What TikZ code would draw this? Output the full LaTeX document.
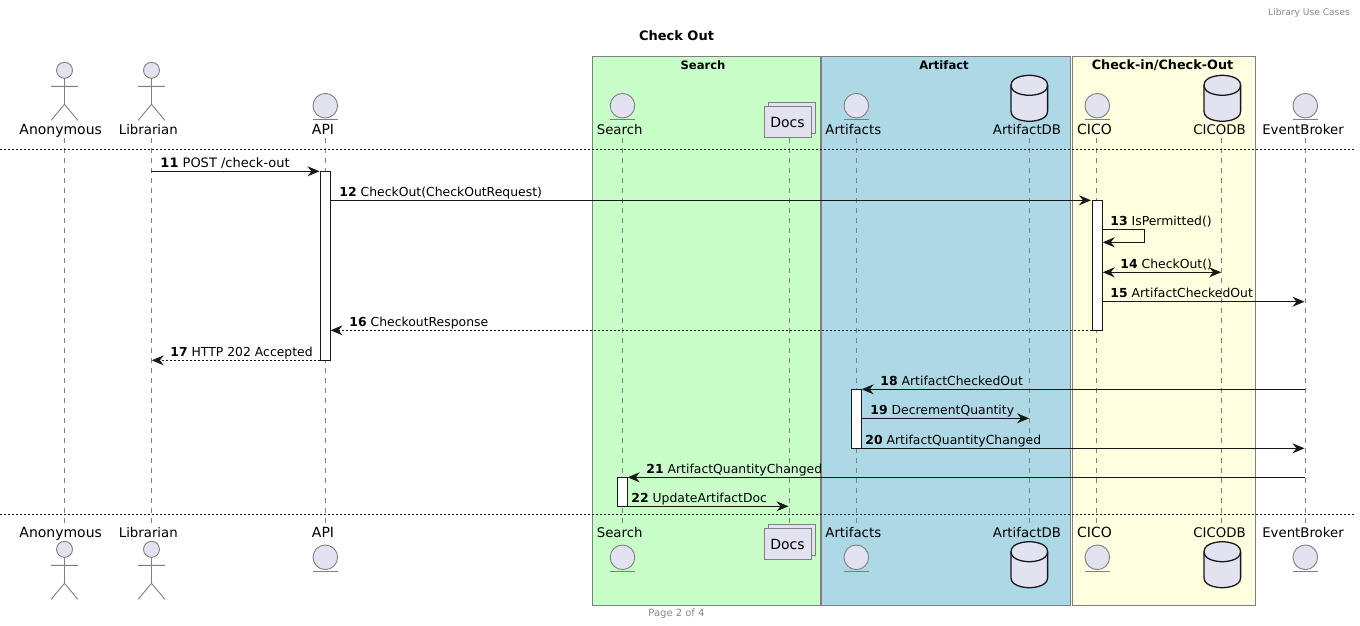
\documentclass[tikz,border=0pt]{standalone}
\usepackage{fontspec}
\setmainfont{DejaVu Sans}
\usetikzlibrary{arrows.meta}
\definecolor{partfill}{HTML}{E2E2F0}
\definecolor{partline}{HTML}{7F7F7F}
\definecolor{inkline}{HTML}{181818}
\definecolor{boxgreen}{HTML}{C8FFC8}
\definecolor{boxblue}{HTML}{ADD8E6}
\definecolor{boxyellow}{HTML}{FFFFE0}
\definecolor{pagegrey}{HTML}{888888}

\tikzset{
    grouptitle/.style={font=\fontsize{#1}{14}\selectfont\bfseries, inner sep=0pt, anchor=base},
    grouptitle/.default=11.6,
    partname/.style={font=\fontsize{#1}{16}\selectfont, inner sep=0pt, anchor=base},
    partname/.default=13.3,
    msgtext/.style={font=\fontsize{12.4}{14}\selectfont, inner sep=0pt, anchor=base west, yshift=4},
    pagetext/.style={font=\fontsize{#1}{12}\selectfont, text=pagegrey, inner sep=0pt, anchor=base},
    pagetext/.default=10,
    lifeline/.style={draw=partline, line width=0.7pt, dash pattern=on 5pt off 5pt},
    divider/.style={draw=inkline, line width=0.8pt, dash pattern=on 2pt off 2pt},
    groupbox/.style={draw=partline, line width=0.7pt, minimum height=549.4pt, inner sep=0pt},
    actbar/.style={rectangle, draw=inkline, fill=white, line width=0.9pt, minimum width=10.4pt, inner sep=0pt},
    msg/.style={draw=inkline, line width=0.9pt, -{Stealth[length=12pt,width=10pt,inset=4pt]}},
    reply/.style={msg, dash pattern=on 2pt off 2pt},
    actorhead/.pic={
        \draw[partline, line width=0.9pt, fill=partfill] (0,8) circle (8);
        \draw[partline, line width=0.9pt] (0,16) -- (0,42) (-13.3,24) -- (13.3,24)
            (-13.3,58) -- (0,42) -- (13.3,58);
    },
    entityhead/.pic={
        \draw[partline, line width=0.9pt, fill=partfill] (0,0) circle (12.3);
        \draw[partline, line width=0.9pt] (-12.3,13.8) -- (12.3,13.8);
    },
    dbhead/.pic={
        \draw[inkline, line width=1.3pt, fill=partfill] (-18.3,10) .. controls (-18.3,0) and (0,0) .. (0,0)
            .. controls (0,0) and (18.3,0) .. (18.3,10) -- (18.3,36)
            .. controls (18.3,46) and (0,46) .. (0,46)
            .. controls (0,46) and (-18.3,46) .. (-18.3,36) -- cycle;
        \draw[inkline, line width=1.3pt] (-18.3,10) .. controls (-18.3,20) and (0,20) .. (0,20)
            .. controls (0,20) and (18.3,20) .. (18.3,10);
    },
    docshead/.pic={
        \draw[partline, line width=0.9pt, fill=partfill] (-19.6,0) rectangle (27.8,31.4);
        \draw[partline, line width=0.9pt, fill=partfill] (-23.6,4) rectangle (23.8,35.4);
    }
}

\begin{document}
\begin{tikzpicture}[x=1pt, y=-1pt]
    \useasboundingbox (0,0) rectangle (1360,625);

    % Groups
    \node[groupbox, fill=boxgreen, minimum width=227.7pt] (searchbox) at (706.15,331) {};
    \node[groupbox, fill=boxblue, minimum width=249.4pt] (artifactbox) at (946,331) {};
    \node[groupbox, fill=boxyellow, minimum width=183pt] (cicobox) at (1163.8,331) {};
    \node[grouptitle] (searchtitle) at (703,69) {Search};
    \node[grouptitle] (artifacttitle) at (944,69) {Artifact};
    \node[grouptitle=12.8] (cicotitle) at (1162.5,69) {Check-in/Check-Out};

    % Page texts
    \node[pagetext=9.1] (header) at (1309,15) {Library Use Cases};
    \node[pagetext] (footer) at (676.5,616) {Page 2 of 4};
    \node[font=\fontsize{13}{15}\selectfont\bfseries, inner sep=0pt, anchor=base] (title) at (676.5,40) {Check Out};

    % Lifeline ends
    \coordinate (anonT) at (64.3,138);    \coordinate (anonB) at (64.3,524);
    \coordinate (libT) at (151.3,138);    \coordinate (libB) at (151.3,524);
    \coordinate (apiT) at (325.3,138);    \coordinate (apiB) at (325.3,524);
    \coordinate (searchT) at (622.3,138); \coordinate (searchB) at (622.3,524);
    \coordinate (docsT) at (789.3,138);   \coordinate (docsB) at (789.3,524);
    \coordinate (artT) at (856.3,138);    \coordinate (artB) at (856.3,524);
    \coordinate (adbT) at (1029.3,138);   \coordinate (adbB) at (1029.3,524);
    \coordinate (cicoT) at (1096.3,138);  \coordinate (cicoB) at (1096.3,524);
    \coordinate (cdbT) at (1221.6,138);   \coordinate (cdbB) at (1221.6,524);
    \coordinate (brokerT) at (1305.3,138); \coordinate (brokerB) at (1305.3,524);

    % Lifelines
    \draw[lifeline] (anonT) -- (anonB);
    \draw[lifeline] (libT) -- (libB);
    \draw[lifeline] (apiT) -- (apiB);
    \draw[lifeline] (searchT) -- (searchB);
    \draw[lifeline] (docsT) -- (docsB);
    \draw[lifeline] (artT) -- (artB);
    \draw[lifeline] (adbT) -- (adbB);
    \draw[lifeline] (cicoT) -- (cicoB);
    \draw[lifeline] (cdbT) -- (cdbB);
    \draw[lifeline] (brokerT) -- (brokerB);

    % Dividers
    \coordinate (divAl) at (0,149.3);  \coordinate (divAr) at (1355,149.3);
    \coordinate (divBl) at (0,514.3);  \coordinate (divBr) at (1355,514.3);
    \draw[divider] (divAl) -- (divAr);
    \draw[divider] (divBl) -- (divBr);

    % Heads, top row
    \pic at (64.5,62.3) {actorhead};
    \pic at (151.5,62.3) {actorhead};
    \pic at (325.3,105.7) {entityhead};
    \pic at (622.5,105.7) {entityhead};
    \pic at (788,102.3) {docshead};
    \pic at (856.3,105.7) {entityhead};
    \pic at (1029.3,75.3) {dbhead};
    \pic at (1097.3,105.7) {entityhead};
    \pic at (1222.3,75.3) {dbhead};
    \pic at (1305.3,105.7) {entityhead};

    % Heads, bottom row
    \pic at (64.5,541.3) {actorhead};
    \pic at (151.5,541.3) {actorhead};
    \pic at (325.3,557.3) {entityhead};
    \pic at (622.5,557.3) {entityhead};
    \pic at (788,524.3) {docshead};
    \pic at (856.3,557.3) {entityhead};
    \pic at (1029.3,541.7) {dbhead};
    \pic at (1097.3,557.3) {entityhead};
    \pic at (1222.3,541.7) {dbhead};
    \pic at (1305.3,557.3) {entityhead};

    % Names, top row
    \node[partname=14] (anonN) at (60.7,134.7) {Anonymous};
    \node[partname] (libN) at (148.3,134.7) {Librarian};
    \node[partname=14] (apiN) at (323,134.7) {API};
    \node[partname] (searchN) at (619.7,134.7) {Search};
    \node[partname=14] (docsN) at (787.5,127) {Docs};
    \node[partname] (artN) at (853.3,134.7) {Artifacts};
    \node[partname] (adbN) at (1027,134.7) {ArtifactDB};
    \node[partname=14] (cicoN) at (1094.5,134.7) {CICO};
    \node[partname] (cdbN) at (1219.5,134.7) {CICODB};
    \node[partname] (brokerN) at (1303,134.7) {EventBroker};

    % Names, bottom row
    \node[partname=14] (anonM) at (60.7,537.7) {Anonymous};
    \node[partname] (libM) at (148.3,537.7) {Librarian};
    \node[partname=14] (apiM) at (323,537.7) {API};
    \node[partname] (searchM) at (619.7,537.7) {Search};
    \node[partname=14] (docsM) at (787.5,549) {Docs};
    \node[partname] (artM) at (853.3,537.7) {Artifacts};
    \node[partname] (adbM) at (1027,537.7) {ArtifactDB};
    \node[partname=14] (cicoM) at (1094.5,537.7) {CICO};
    \node[partname] (cdbM) at (1219.5,537.7) {CICODB};
    \node[partname] (brokerM) at (1303,537.7) {EventBroker};

    % Activation bars
    \node[actbar, minimum height=189pt] (barapi) at (325.4,265.8) {};
    \node[actbar, minimum height=130.3pt] (barcico) at (1097.5,265.15) {};
    \node[actbar, minimum height=59pt] (barart) at (856.5,418.8) {};
    \node[actbar, minimum height=29pt] (barsearch) at (622.5,491.8) {};

    % Message ends
    \coordinate (a11) at (151.3,171.3); \coordinate (b11) at (319.5,171.3);
    \coordinate (a12) at (330.6,200.3); \coordinate (b12) at (1091,200.3);
    \coordinate (a13) at (1102.7,229.3); \coordinate (c13) at (1144.3,229.3);
    \coordinate (d13) at (1144.3,242.3); \coordinate (b13) at (1102.7,242.3);
    \coordinate (a14) at (1102.7,272.3); \coordinate (b14) at (1221.2,272.3);
    \coordinate (a15) at (1102.7,301.7); \coordinate (b15) at (1304.5,301.7);
    \coordinate (a16) at (1092.3,330.3); \coordinate (b16) at (330.6,330.3);
    \coordinate (a17) at (320.2,360.3); \coordinate (b17) at (151.8,360.3);
    \coordinate (a18) at (1305.3,389.3); \coordinate (b18) at (861.7,389.3);
    \coordinate (a19) at (861.7,418.3); \coordinate (b19) at (1029,418.3);
    \coordinate (a20) at (861.7,448.3); \coordinate (b20) at (1304.5,448.3);
    \coordinate (a21) at (1305.3,477.3); \coordinate (b21) at (627.7,477.3);
    \coordinate (a22) at (627.7,506.3); \coordinate (b22) at (788.5,506.3);

    % Messages
    \draw[msg] (a11) -- node[msgtext, font=\fontsize{13}{14}\selectfont, at start, xshift=8.7] (t11) {\textbf{11} POST /check-out} (b11);
    \draw[msg] (a12) -- node[msgtext, at start, xshift=8.4] (t12) {\textbf{12} CheckOut(CheckOutRequest)} (b12);
    \draw[msg] (a13) -- node[msgtext, at start, xshift=7.3] (t13) {\textbf{13} IsPermitted()} (c13) -- (d13) -- (b13);
    \draw[msg, {Stealth[length=12pt,width=10pt,inset=4pt]}-{Stealth[length=12pt,width=10pt,inset=4pt]}] (a14) -- node[msgtext, at start, xshift=17.3] (t14) {\textbf{14} CheckOut()} (b14);
    \draw[msg] (a15) -- node[msgtext, at start, xshift=7.3] (t15) {\textbf{15} ArtifactCheckedOut} (b15);
    \draw[reply] (a16) -- node[msgtext, at end, xshift=18.4] (t16) {\textbf{16} CheckoutResponse} (b16);
    \draw[reply] (a17) -- node[msgtext, at end, xshift=18.2] (t17) {\textbf{17} HTTP 202 Accepted} (b17);
    \draw[msg] (a18) -- node[msgtext, at end, xshift=18.3] (t18) {\textbf{18} ArtifactCheckedOut} (b18);
    \draw[msg] (a19) -- node[msgtext, at start, xshift=8.3] (t19) {\textbf{19} DecrementQuantity} (b19);
    \draw[msg] (a20) -- node[msgtext, at start, xshift=3.3] (t20) {\textbf{20} ArtifactQuantityChanged} (b20);
    \draw[msg] (a21) -- node[msgtext, at end, xshift=18.3] (t21) {\textbf{21} ArtifactQuantityChanged} (b21);
    \draw[msg] (a22) -- node[msgtext, at start, xshift=3.3] (t22) {\textbf{22} UpdateArtifactDoc} (b22);
\end{tikzpicture}
\end{document}
